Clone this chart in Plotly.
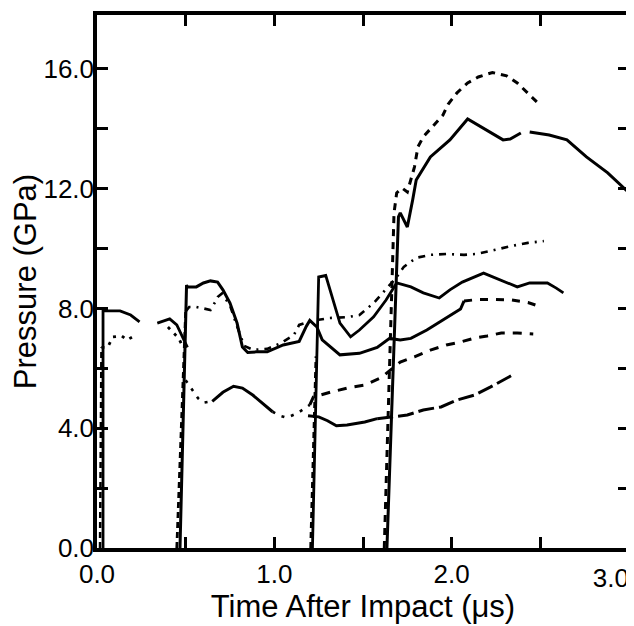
import plotly.graph_objects as go

# gauge 1 (arrival ~0.03 us)
g1_solid_t = [0.034, 0.034, 0.07, 0.13, 0.19, 0.24, None, 0.34, 0.41, 0.45, 0.485, 0.51]
g1_solid_p = [0.0, 7.92, 7.92, 7.92, 7.78, 7.55, None, 7.51, 7.65, 7.45, 7.0, 6.7]
g1_rise_t = [0.017, 0.025]
g1_rise_p = [0.0, 6.7]
g1_dot_t = [0.025, 0.06, 0.09, 0.14, 0.17, 0.2, None, 0.40, 0.43, 0.46, 0.485]
g1_dot_p = [6.7, 6.7, 7.05, 7.08, 6.95, 7.05, None, 7.38, 7.21, 7.01, 6.71]

# gauge 2 (arrival ~0.5 us)
g2_solid_t = [0.468, 0.505, 0.51, 0.56, 0.60, 0.64, 0.68, 0.71, 0.75, 0.79, 0.82, 0.85, 0.90,
              0.96, 1.05, 1.14, 1.18, 1.20, 1.24, 1.27, 1.37, 1.48, 1.58, 1.65, 1.71, 1.77,
              1.86, 1.95, 2.05, 2.07]
g2_solid_p = [0.0, 8.78, 8.72, 8.72, 8.85, 8.92, 8.88, 8.62, 8.18, 7.51, 6.71, 6.53, 6.55,
              6.55, 6.78, 6.9, 7.4, 7.6, 7.38, 6.95, 6.45, 6.5, 6.7, 7.0, 6.95, 7.0,
              7.28, 7.62, 7.98, 8.25]
g2_rise_t = [0.45, 0.50]
g2_rise_p = [0.0, 7.9]
g2_dot_t = [0.50, 0.52, 0.56, 0.60, 0.64, 0.665, 0.68, 0.705, 0.75, 0.79, 0.83, 0.88, 0.96,
            1.04, 1.11, 1.14, 1.19, 1.25, 1.31, 1.41, 1.48, 1.56, 1.64, 1.69, 1.73, 1.80,
            1.88, 1.97, 2.07, 2.14, 2.24, 2.34, 2.43, 2.52]
g2_dot_p = [7.9, 8.05, 8.05, 8.0, 7.95, 8.2, 8.38, 8.5, 8.1, 7.4, 6.75, 6.62, 6.65,
            6.85, 7.11, 7.45, 7.55, 7.62, 7.68, 7.71, 7.78, 8.18, 8.72, 9.05, 9.39, 9.69,
            9.79, 9.82, 9.79, 9.82, 9.95, 10.09, 10.19, 10.25]
tail_dash_t = [2.07, 2.15, 2.24, 2.34, 2.43, 2.48]
tail_dash_p = [8.25, 8.3, 8.3, 8.28, 8.2, 8.1]

# lower trace (~5 GPa) between gauge 2 and gauge 3
low_dot_t = [0.50, 0.54, 0.57, 0.60, 0.65, None, 0.99, 1.03, 1.07, 1.13, 1.20]
low_dot_p = [5.6, 5.28, 5.0, 4.85, 4.9, None, 4.55, 4.42, 4.35, 4.5, 4.78]
low_solid_t = [0.65, 0.71, 0.77, 0.82, 0.88, 0.94, 0.99]
low_solid_p = [4.9, 5.2, 5.4, 5.34, 5.1, 4.8, 4.55]
low_dash_t = [1.20, 1.22, 1.32, 1.41, 1.51, 1.60, 1.71, 1.79, 1.88, 1.97, 2.05, 2.13, 2.20,
              2.28, 2.37, 2.46]
low_dash_p = [4.78, 5.04, 5.21, 5.34, 5.44, 5.68, 6.21, 6.38, 6.61, 6.78, 6.88, 7.01, 7.08,
              7.18, 7.18, 7.15]

# lowest trace (~4 GPa)
bot_solid_t = [1.19, 1.25, 1.30, 1.35, 1.41, 1.51, 1.58]
bot_solid_p = [4.42, 4.38, 4.25, 4.08, 4.11, 4.21, 4.32]
bot_dash_t = [1.58, 1.67, 1.75, 1.84, 1.94, 2.03, 2.13, 2.22, 2.31, 2.35]
bot_dash_p = [4.32, 4.38, 4.44, 4.61, 4.71, 4.94, 5.11, 5.38, 5.68, 5.8]

# gauge 3 (arrival ~1.25 us)
g3_solid_t = [1.215, 1.25, 1.29, 1.33, 1.37, 1.43, 1.48, 1.56, 1.63, 1.69, 1.77, 1.84, 1.93,
              1.99, 2.06, 2.18, 2.25, 2.37, 2.44, 2.54, 2.59, 2.63]
g3_solid_p = [0.0, 9.05, 9.1, 8.28, 7.51, 7.05, 7.28, 7.72, 8.28, 8.85, 8.72, 8.52, 8.35,
              8.62, 8.88, 9.18, 9.02, 8.72, 8.85, 8.85, 8.68, 8.52]
g3_rise_t = [1.205, 1.235]
g3_rise_p = [0.0, 6.4]

# gauge 4 (arrival ~1.68 us)
g4_solid_t = [1.635, 1.70, 1.71, 1.75, 1.78, 1.80, 1.88, 1.99, 2.09, 2.20, 2.29, 2.33, 2.39,
              None, 2.44, 2.55, 2.65, 2.76, 2.88, 3.0]
g4_solid_p = [0.0, 11.06, 11.19, 10.72, 11.62, 12.29, 13.06, 13.63, 14.33, 13.96, 13.63, 13.66,
              13.86, None, 13.89, 13.79, 13.63, 13.06, 12.53, 11.86]
g4_dash_t = [1.62, 1.675, 1.69, 1.72, 1.75, 1.79, 1.81, 1.84, 1.89, 1.95, 1.98, 2.03, 2.09,
             2.15, 2.23, 2.31, 2.37, 2.41, 2.48]
g4_dash_p = [0.0, 11.19, 11.86, 12.02, 11.89, 12.72, 13.4, 13.73, 14.06, 14.45, 14.82, 15.2,
             15.53, 15.73, 15.88, 15.77, 15.53, 15.3, 14.9]

x_ticks = [0, 1, 2]
x_tick_text = ["0.0", "1.0", "2.0"]
x_end_tick = [3]
x_end_text = ["3.0"]
y_ticks = [0, 4, 8, 12, 16]
y_tick_text = ["0.0", "4.0", "8.0", "12.0", "16.0"]

fig = go.Figure()


def add_line(t, p, width=2.8, dash="solid", xaxis="x"):
    fig.add_trace(go.Scatter(x=t, y=p, mode="lines", connectgaps=False, xaxis=xaxis,
                             line=dict(color="black", width=width, dash=dash)))


add_line(g1_rise_t, g1_rise_p, 2.5, "6px,4px")
add_line(g1_solid_t, g1_solid_p, 2.8)
add_line(g1_dot_t, g1_dot_p, 2.8, "3px,6px")

add_line(g2_rise_t, g2_rise_p, 2.8, "6px,4px")
add_line(g2_solid_t, g2_solid_p, 3.0)
add_line(g2_dot_t, g2_dot_p, 2.6, "7px,6px,2px,6px")
add_line(tail_dash_t, tail_dash_p, 3.0, "8px,8px")

add_line(low_dot_t, low_dot_p, 2.6, "3px,7px")
add_line(low_solid_t, low_solid_p, 3.0)
add_line(low_dash_t, low_dash_p, 3.0, "9px,8px")

add_line(bot_solid_t, bot_solid_p, 3.0)
add_line(bot_dash_t, bot_dash_p, 3.0, "16px,5px")

add_line(g3_rise_t, g3_rise_p, 2.8, "6px,4px")
add_line(g3_solid_t, g3_solid_p, 2.8)

add_line(g4_dash_t, g4_dash_p, 3.0, "7px,6px")
# drawn against the overlay axis that carries the right-aligned "3.0" label
add_line(g4_solid_t, g4_solid_p, 3.0, xaxis="x2")

axis_style = dict(showline=True, linewidth=3.5, linecolor="black", mirror="ticks",
                  ticks="inside", ticklen=11, tickwidth=3, tickcolor="black",
                  showgrid=False, zeroline=False, automargin=False)

fig.update_layout(
    xaxis=dict(range=[0, 3.0], tickvals=x_ticks, ticktext=x_tick_text,
               minor=dict(tickmode="linear", tick0=0, dtick=0.5, ticks="inside",
                          ticklen=11, tickwidth=3, tickcolor="black", showgrid=False),
               title=dict(text="Time After Impact (\u03bcs)", standoff=8),
               **axis_style),
    xaxis2=dict(overlaying="x", matches="x", side="bottom", tickvals=x_end_tick,
                ticktext=x_end_text, ticklabelposition="outside left",
                ticklabelstandoff=12, ticklabeloverflow="allow", ticks="",
                showline=False, showgrid=False, zeroline=False, automargin=False),
    yaxis=dict(range=[0, 17.8], tickvals=y_ticks, ticktext=y_tick_text,
               ticklabelstandoff=-6,
               minor=dict(tickmode="linear", tick0=0, dtick=2, ticks="inside",
                          ticklen=11, tickwidth=3, tickcolor="black", showgrid=False),
               title=dict(text="Pressure (GPa)", standoff=4),
               **axis_style),
)

# the page body adds an 8px offset, so the figure is 8px smaller and shifted
fig.update_layout(width=626, height=618, margin=dict(l=89, r=5, t=7, b=78),
                  plot_bgcolor="white", paper_bgcolor="white", showlegend=False,
                  font=dict(family="Liberation Sans", size=26, color="black"))

fig.write_html("out.html")
